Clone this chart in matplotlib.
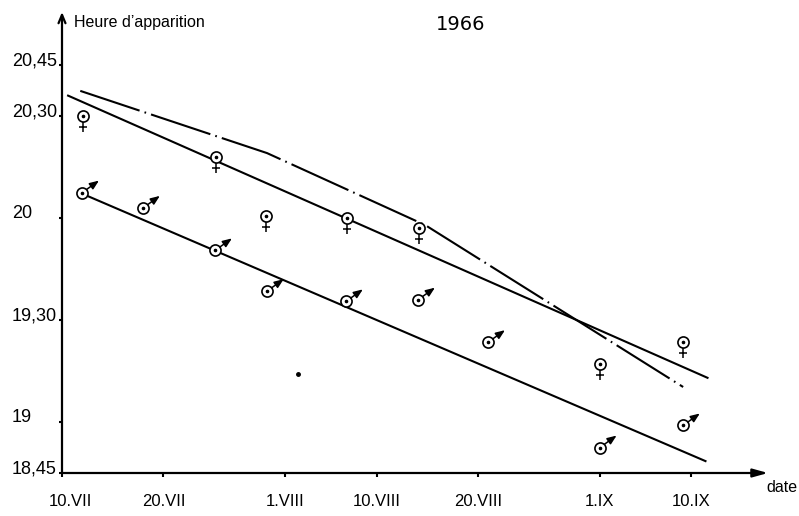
import numpy as np
import matplotlib
matplotlib.use('Agg')
import matplotlib.pyplot as plt
import matplotlib.transforms as mtransforms
from matplotlib.path import Path

# x = days after 10 July 1966, y = minutes after 18h00
fem_day = [2.1, 15.2, 20.1, 28.1, 35.2, 53.0, 61.2]
fem_min = [150, 138, 120.5, 120, 117, 77, 83.5]
male_day = [2.0, 8.0, 15.1, 20.2, 28.0, 35.1, 42.0, 53.0, 61.2]
male_min = [127.5, 123, 110.5, 98.5, 95.5, 96, 83.5, 52.5, 59]
stray_day = [23.3]
stray_min = [74]

# fitted lines
fem_line_day = [0.6, 63.6]
fem_line_min = [156, 73]
male_line_day = [2.5, 63.4]
male_line_min = [126.5, 48.5]
dd_day = [1.8, 20.2, 35.8, 61.2]
dd_min = [157.4, 139.1, 117.9, 70.3]

date_ticks = [0, 10, 22, 31, 41, 53, 62]
date_labels = ['10.VII', '20.VII', '1.VIII', '10.VIII', '20.VIII', '1.IX', '10.IX']
hour_ticks = [45, 60, 90, 120, 150, 165]
hour_labels = ['18,45', '19', '19,30', '20', '20,30', '20,45']

plt.rcParams['font.family'] = ['Liberation Sans', 'DejaVu Sans']

fig = plt.figure(figsize=(7.99, 5.16), dpi=100)
ax = fig.add_axes([62/799, 43/516, 706/799, 461/516])
ax.set_xlim(0, 69.56)
ax.set_ylim(45, 180.6)
for s in ax.spines.values():
    s.set_visible(False)

# axes with arrows
ax.annotate('', xy=(1, 0), xytext=(0, 0), xycoords='axes fraction',
            arrowprops=dict(arrowstyle='-|>,head_length=0.9,head_width=0.25',
                            lw=1.6, color='black', shrinkA=0, shrinkB=0),
            annotation_clip=False)
ax.annotate('', xy=(0, 1), xytext=(0, 0), xycoords='axes fraction',
            arrowprops=dict(arrowstyle='->,head_length=0.6,head_width=0.25',
                            lw=1.6, color='black', shrinkA=0, shrinkB=0),
            annotation_clip=False)

ax.set_xticks(date_ticks)
ax.set_xticklabels(date_labels, fontsize=12)
ax.set_yticks(hour_ticks)
ax.set_yticklabels(hour_labels, fontsize=13)
ax.tick_params(axis='x', direction='out', length=3, width=1.5, pad=12)
ax.tick_params(axis='y', direction='out', length=2, width=1.5, pad=34)
for lab in ax.get_yticklabels():
    lab.set_horizontalalignment('left')
    lab.set_verticalalignment('baseline')
# first date label sits a little right of the origin
first = ax.get_xticklabels()[0]
first.set_transform(first.get_transform() +
                    mtransforms.ScaledTranslation(8/100, 0, fig.dpi_scale_trans))

# lines
ax.plot(fem_line_day, fem_line_min, color='black', lw=1.5)
ax.plot(male_line_day, male_line_min, color='black', lw=1.5)
ax.plot(dd_day, dd_min, color='black', lw=1.5, dashes=(30, 2.5, 0.8, 2.5))

# female symbols: circle with dot + cross below
tail = Path([(0, -4), (0, -11.5), (-3.2, -8), (3.2, -8)],
            [Path.MOVETO, Path.LINETO, Path.MOVETO, Path.LINETO])
ax.plot(fem_day, fem_min, ls='none', marker=tail, ms=23, mfc='none',
        mec='black', mew=1.1, zorder=4)
ax.plot(fem_day, fem_min, 'o', ms=8, mfc='white', mec='black', mew=1.2, zorder=5)
ax.plot(fem_day, fem_min, 'o', ms=1.6, color='black', zorder=6)

# male symbols: circle with dot + arrow
ax.plot(male_day, male_min, 'o', ms=8, mfc='white', mec='black', mew=1.2, zorder=5)
ax.plot(male_day, male_min, 'o', ms=1.6, color='black', zorder=6)
for d, m in zip(male_day, male_min):
    ax.annotate('', xy=(d, m), xytext=(12, 8.6), textcoords='offset points',
                arrowprops=dict(arrowstyle='<|-,head_length=0.55,head_width=0.22',
                                color='black', lw=1.1, shrinkA=0, shrinkB=4),
                zorder=5)

ax.plot(stray_day, stray_min, 'o', ms=2.5, color='black')

fig.text(74/799, 1 - 22/516, 'Heure d\u2019apparition', ha='left', va='center',
         fontsize=11.5)
fig.text(461/799, 1 - 25/516, '1966', ha='center', va='center', fontsize=14,
         family=['Liberation Sans Narrow', 'DejaVu Sans'])
fig.text(782/799, 1 - 488/516, 'date', ha='center', va='center', fontsize=11.5)

fig.savefig('out.png', dpi=100)
